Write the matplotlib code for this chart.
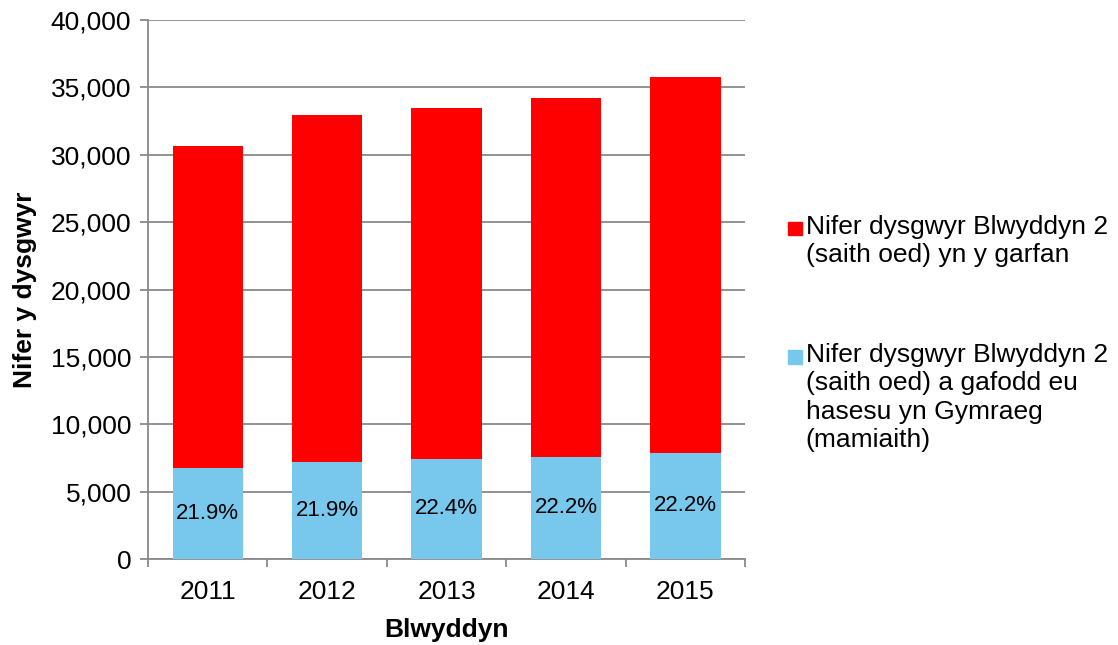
import numpy as np
import matplotlib
matplotlib.use('Agg')
import matplotlib.pyplot as plt
from matplotlib.patches import Rectangle
from matplotlib.ticker import FuncFormatter

plt.rcParams['font.family'] = ['Liberation Sans', 'DejaVu Sans']

years = ['2011', '2012', '2013', '2014', '2015']
cohort = [30650, 32950, 33450, 34200, 35800]
welsh = [6750, 7200, 7450, 7600, 7900]
pct_labels = ['21.9%', '21.9%', '22.4%', '22.2%', '22.2%']

red = '#ff0000'
blue = '#77c8ec'
grid = '#898989'

rest = np.array(cohort) - np.array(welsh)
x = np.arange(len(years))

fig = plt.figure(figsize=(11.18, 6.45), dpi=100)
ax = fig.add_axes([0.1324, 0.1333, 0.5340, 0.8357])

ax.bar(x, welsh, width=0.59, color=blue, zorder=3)
ax.bar(x, rest, bottom=welsh, width=0.59, color=red, zorder=3)

for xi, w, lab in zip(x, welsh, pct_labels):
    ax.text(xi, w / 2, lab, ha='center', va='center', fontsize=16, zorder=4)

ax.set_xlim(-0.5, len(years) - 0.5)
ax.set_ylim(0, 40000)
ax.set_yticks(np.arange(0, 40001, 5000))
ax.yaxis.set_major_formatter(FuncFormatter(lambda v, p: f'{int(v):,}'))
ax.grid(axis='y', color=grid, linewidth=1.3, zorder=0)

ax.set_xticks(x)
ax.set_xticklabels(years)
ax.set_xticks(np.arange(-0.5, len(years)), minor=True)
ax.tick_params(axis='x', which='major', length=0, pad=15, labelsize=19)
ax.tick_params(axis='x', which='minor', length=6, width=1.3, color=grid, direction='out')
ax.tick_params(axis='y', length=6, width=1.3, color=grid, labelsize=19, pad=6)

for s in ['top', 'right']:
    ax.spines[s].set_visible(False)
for s in ['left', 'bottom']:
    ax.spines[s].set_color(grid)
    ax.spines[s].set_linewidth(1.3)

ax.set_xlabel('Blwyddyn', fontsize=19, fontweight='bold', labelpad=10)
ax.set_ylabel('Nifer y dysgwyr', fontsize=19, fontweight='bold', labelpad=10)

# legend drawn by hand so the swatch sits on the first line
entries = [
    (red, 'Nifer dysgwyr Blwyddyn 2\n(saith oed) yn y garfan', 0.667),
    (blue, 'Nifer dysgwyr Blwyddyn 2\n(saith oed) a gafodd eu\nhasesu yn Gymraeg\n(mamiaith)', 0.468),
]
for col, lab, ytop in entries:
    fig.patches.append(Rectangle((0.7050, ytop - 0.032), 0.0120, 0.0210,
                                 transform=fig.transFigure, color=col))
    fig.text(0.7205, ytop, lab, fontsize=19, va='top', ha='left', linespacing=1.22)

fig.savefig('out.png', dpi=100)
